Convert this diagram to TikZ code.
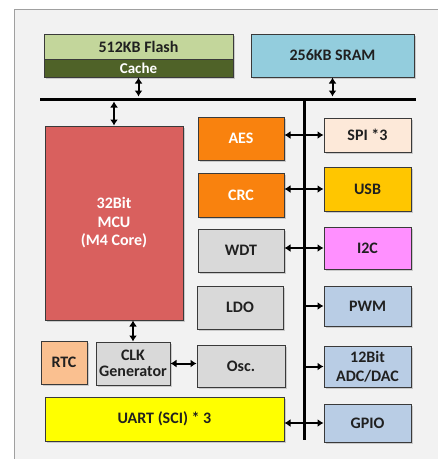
\documentclass[tikz,border=0pt]{standalone}
\usepackage{fontspec}
\setmainfont{Carlito}
\usetikzlibrary{arrows.meta,shadows,calc}
\definecolor{frameF}{HTML}{F2F2F2}
\definecolor{frameD}{HTML}{A0A0A0}
\definecolor{cFlash}{HTML}{C3D69B}
\definecolor{cCache}{HTML}{4F6228}
\definecolor{cSram}{HTML}{93CDDD}
\definecolor{cMcu}{HTML}{D9605E}
\definecolor{cOrange}{HTML}{F9820E}
\definecolor{cSpi}{HTML}{FDE9D9}
\definecolor{cUsb}{HTML}{FFC600}
\definecolor{cI2c}{HTML}{FF90FF}
\definecolor{cBlue}{HTML}{B9CDE5}
\definecolor{cGrey}{HTML}{D9D9D9}
\definecolor{cRtc}{HTML}{FAC090}
\definecolor{cUart}{HTML}{FFFF00}
\definecolor{cText}{HTML}{202020}
\definecolor{cEdge}{HTML}{3A3A3A}
\tikzset{
  blk/.style={draw=cEdge, line width=1pt, inner sep=0pt, align=center,
    font=\fontsize{16}{18.5}\selectfont\bfseries, text=cText,
    drop shadow={opacity=0.35, shadow xshift=2pt, shadow yshift=-2pt}},
  bus/.style={line width=3pt, black},
  dbl/.style={line width=2pt, {Latex[length=6pt,width=8pt]}-{Latex[length=6pt,width=8pt]}},
  sgl/.style={line width=2pt, -{Latex[length=6pt,width=8pt]}},
}
\newcommand{\blkat}[7]{% name, x1,y1,x2,y2, style, text
  \node[blk, #6, minimum width={(#4-#2)*1pt}, minimum height={(#5-#3)*1pt}] (#1) at ({(#2+#4)/2},{(#3+#5)/2}) {#7};}
\begin{document}
\begin{tikzpicture}[x=1pt,y=-1pt]
\useasboundingbox (0,0) rectangle (438,459);
\fill[white] (0,0) rectangle (438,459);
\draw[frameD, fill=frameF, line width=1pt] (14,9) rectangle (460,480);
% bus
\coordinate (hl) at (40,99);
\coordinate (hr) at (416,99);
\coordinate (vt) at (304,99);
\coordinate (vb) at (304,440);
\draw[bus] (hl) -- (hr);
\draw[bus] (vt) -- (vb);
% blocks
\blkat{flash}{44}{34}{233}{59}{fill=cFlash}{512KB Flash}
\blkat{cache}{44}{59}{233}{77}{fill=cCache, text=white, font=\fontsize{15}{16}\selectfont\bfseries}{Cache}
\blkat{sram}{251}{34}{414}{77}{fill=cSram}{256KB SRAM}
\blkat{mcu}{45}{126}{183}{320}{fill=cMcu, text=white}{32Bit\\MCU\\(M4 Core)}
\blkat{aes}{198}{117}{284}{160}{fill=cOrange, text=white}{AES}
\blkat{spi}{324}{118}{411}{152}{fill=cSpi}{SPI *3}
\blkat{crc}{198}{173}{284}{217}{fill=cOrange, text=white}{CRC}
\blkat{usb}{324}{167}{411}{211}{fill=cUsb}{USB}
\blkat{wdt}{198}{229}{284}{272}{fill=cGrey}{WDT}
\blkat{i2c}{324}{227}{411}{269}{fill=cI2c}{I2C}
\blkat{ldo}{197}{286}{283}{329}{fill=cGrey}{LDO}
\blkat{pwm}{324}{286}{411}{326}{fill=cBlue}{PWM}
\blkat{adc}{324}{346}{411}{387}{fill=cBlue}{12Bit\\ADC/DAC}
\blkat{gpio}{324}{404}{411}{442}{fill=cBlue}{GPIO}
\blkat{rtc}{41}{341}{87}{384}{fill=cRtc}{RTC}
\blkat{clk}{96}{342}{170}{385}{fill=cGrey, font=\fontsize{16}{15.5}\selectfont\bfseries}{CLK\\Generator}
\blkat{osc}{197}{345}{285}{387}{fill=cGrey}{Osc.}
\blkat{uart}{45}{397}{284}{441}{fill=cUart}{UART (SCI) * 3}
% connectors
\draw[dbl] (cache.south) -- ($(cache.south |- hl)+(0,-2.5)$);
\draw[dbl] (sram.south) -- ($(sram.south |- hl)+(0,-2.5)$);
\draw[dbl] ($(mcu.north |- hl)+(0,2.5)$) -- (mcu.north);
\draw[dbl] (clk.north) -- (clk.north |- mcu.south);
\draw[dbl] (clk.east) -- (clk.east -| osc.west);
\draw[dbl] (aes.east |- spi.west) -- (spi.west);
\draw[dbl] (crc.east |- usb.west) -- (usb.west);
\draw[dbl] (wdt.east |- i2c.west) -- (i2c.west);
\draw[dbl] (uart.east |- gpio.west) -- (gpio.west);
\draw[sgl] (vt |- pwm.west) -- (pwm.west);
\draw[sgl] (vt |- adc.west) -- (adc.west);
\end{tikzpicture}
\end{document}
